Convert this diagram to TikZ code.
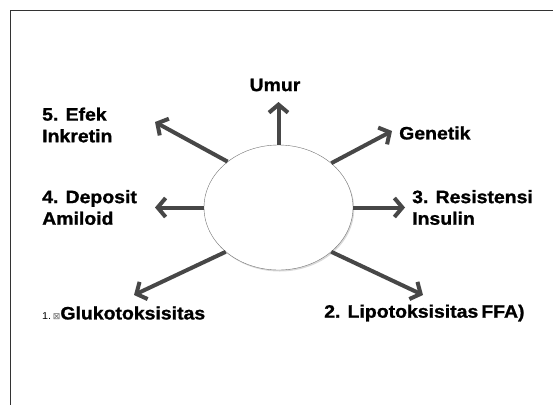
\documentclass[tikz,border=0pt]{standalone}
\usepackage{fontspec}
\setmainfont{Liberation Sans}[BoldFont={Liberation Sans Bold},BoldFeatures={FakeBold=1.2},FakeStretch=1.08]
\newfontfamily\symfont{DejaVu Sans}
\usetikzlibrary{arrows.meta,shapes.geometric,shadows}

\begin{document}
\begin{tikzpicture}[x=1pt,y=-1pt,
  panah/.style={draw=black!72,line width=4pt,-{Straight Barb[length=8pt,width=19pt]}},
  teks/.style={font=\fontsize{18}{21.6}\selectfont\bfseries,align=left,inner sep=0pt}]
\useasboundingbox (0,0) rectangle (553,405);
\draw[black!80,line width=0.8pt](553,10)--(10,10)--(10,405);
\node[ellipse,draw=black!55,fill=white,minimum width=149pt,minimum height=125pt,inner sep=0pt,
  drop shadow={opacity=0.3,shadow xshift=1.2pt,shadow yshift=-1.5pt}](pusat)at(278.5,207.5){};
\coordinate(tUmur)at(278.5,102);
\coordinate(tGenetik)at(392,131);
\coordinate(tResistensi)at(405,207.5);
\coordinate(tLipo)at(423,295);
\coordinate(tGluko)at(134,295);
\coordinate(tDeposit)at(155,207.5);
\coordinate(tEfek)at(155,122);
\node[teks](umur)at(275,85){Umur};
\node[teks,anchor=west](genetik)at(399,133){Genetik};
\node[teks,anchor=west](resistensi)at(412,207.5){3. Resistensi\\Insulin};
\node[teks,anchor=west](lipo)at(324,313){2. Lipotoksisitas\,FFA)};
\node[teks,anchor=west](gluko)at(42,313){{\fontsize{10}{12}\selectfont\mdseries 1.\,{\symfont\color{black!60}\fontsize{9}{10}\selectfont ⊠}}Glukotoksisitas};
\node[teks,anchor=west](deposit)at(42,207.5){4. Deposit\\Amiloid};
\node[teks,anchor=west](efek)at(42,125){5. Efek\\Inkretin};
\draw[panah](pusat.north)--(tUmur);
\draw[panah](pusat.40)--(tGenetik);
\draw[panah](pusat.east)--(tResistensi);
\draw[panah](pusat.-40)--(tLipo);
\draw[panah](pusat.220)--(tGluko);
\draw[panah](pusat.west)--(tDeposit);
\draw[panah](pusat.138)--(tEfek);
\end{tikzpicture}
\end{document}
